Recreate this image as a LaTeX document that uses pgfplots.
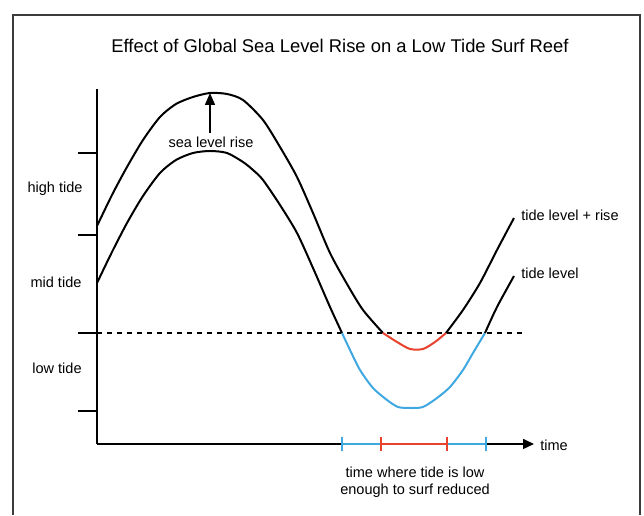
\documentclass[border=0pt]{standalone}
\usepackage{pgfplots}
\pgfplotsset{compat=1.18}
\usepackage{fontspec}
\setmainfont{Liberation Sans}
\usetikzlibrary{arrows.meta}

\definecolor{lowblue}{RGB}{64,168,224}
\definecolor{lowred}{RGB}{232,66,44}
\definecolor{framegray}{RGB}{60,60,60}

% 1 px of the reference = 0.75pt; data coordinates are reference pixels (y counted upwards)
\begin{document}
\begin{tikzpicture}
\begin{axis}[
    scale only axis,
    width=327.75pt, height=266.25pt,
    xmin=97, xmax=534,
    ymin=71, ymax=426,
    axis lines=left,
    x axis line style={line width=1.2pt, -{Triangle[length=8.25pt,width=7.5pt]}},
    y axis line style={line width=1.2pt, -},
    xtick=\empty,
    ytick={104,182,280,362},
    yticklabels={},
    tick align=outside,
    major tick length=14.25pt,
    tick style={black, line width=1.2pt},
    clip=false,
    set layers,
    font=\fontsize{10.9}{12.75}\selectfont,
    curve/.style={line width=1.5pt, smooth, tension=0.45, line join=round},
]
% picture size and frame
\path (axis cs:0,0) rectangle (axis cs:644,515);
\draw[framegray, line width=1.1pt] (axis cs:13,0) -- (axis cs:13,500) -- (axis cs:640,500) -- (axis cs:640,0);

% low tide threshold
\addplot[black, line width=1.1pt, dash pattern=on 3.6pt off 3.9pt] coordinates {(97,182) (525,182)};

% tide level
\addplot[black, curve] coordinates {
(97,232) (112,263) (127,292) (143,319) (160,342) (176,355) (193,362) (210,364)
(227,362) (243,353) (253,345) (263,335) (280,310) (297,282) (313,247) (330,208) (342,182)};
\addplot[lowblue, curve] coordinates {
(342,182) (350,165) (360,145) (373,127) (387,115) (398,108) (410,107) (423,108)
(437,117) (450,128) (463,145) (473,162) (485,182)};
\addplot[black, curve] coordinates {(485,182) (497,208) (514,239)};

% tide level + rise
\addplot[black, curve] coordinates {
(97,289) (112,320) (127,348) (143,375) (160,398) (176,411) (193,418) (210,422)
(227,421) (243,415) (263,395) (280,368) (297,338) (313,302) (330,262) (347,231)
(363,205) (383,182)};
\addplot[lowred, curve] coordinates {
(383,182) (397,173) (410,166) (423,166) (435,173) (446,182)};
\addplot[black, curve] coordinates {(446,182) (463,205) (480,232) (497,265) (514,297)};

% surfable time on the time axis
\addplot[lowblue, line width=1.4pt, on layer=axis foreground] coordinates {(342,71) (381,71)};
\addplot[lowred, line width=1.4pt, on layer=axis foreground] coordinates {(381,71) (447,71)};
\addplot[lowblue, line width=1.4pt, on layer=axis foreground] coordinates {(447,71) (486,71)};
\addplot[lowblue, line width=1.2pt, on layer=axis foreground, unbounded coords=jump] coordinates {
(342,64) (342,78) (nan,nan) (486,64) (486,78)};
\addplot[lowred, line width=1.2pt, on layer=axis foreground, unbounded coords=jump] coordinates {
(381,64) (381,78) (nan,nan) (447,64) (447,78)};

% sea level rise arrow
\draw[black, line width=1.1pt, -{Triangle[length=9pt,width=7.5pt]}] (axis cs:210,382) -- (axis cs:210,422);

% texts
\node[font=\fontsize{13.8}{16}\selectfont] at (axis cs:340,469) {Effect of Global Sea Level Rise on a Low Tide Surf Reef};
\node at (axis cs:55,326) {high tide};
\node at (axis cs:56,233) {mid tide};
\node at (axis cs:57,147) {low tide};
\node at (axis cs:211,373) {sea level rise};
\node[anchor=west, inner sep=0pt] at (axis cs:521,300) {tide level + rise};
\node[anchor=west, inner sep=0pt] at (axis cs:521,242) {tide level};
\node[anchor=west, inner sep=0pt] at (axis cs:540,70) {time};
\node[align=center] at (axis cs:415,33) {time where tide is low\\enough to surf reduced};
\end{axis}
\end{tikzpicture}
\end{document}
